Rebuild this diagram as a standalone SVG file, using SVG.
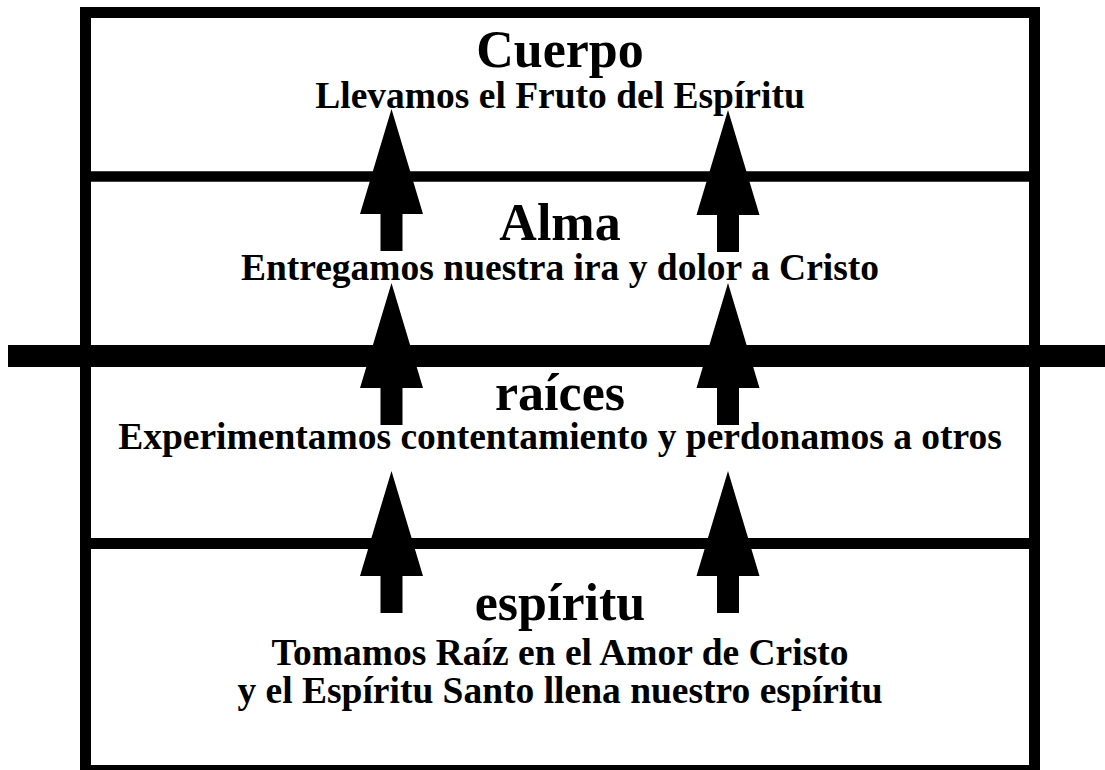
<svg xmlns="http://www.w3.org/2000/svg" width="1105" height="770" viewBox="0 0 1105 770">
<style>
.t{font-family:"Liberation Serif","Times New Roman",serif;font-weight:bold;fill:#000;text-anchor:middle}
.h{font-size:52px}
.s{font-size:37.5px}
.ln{stroke:#000;fill:none}
</style>
<defs>
<path id="arr" d="M0,0 L31.5,105 L11,105 L11,142 L-11,142 L-11,105 L-31.5,105 Z" fill="#000"/>
</defs>
<rect width="1105" height="770" fill="#fff"/>
<g id="frame">
<rect class="ln" x="85.5" y="12.5" width="949" height="758" stroke-width="11"/>
<line class="ln" x1="85" y1="176.5" x2="1035" y2="176.5" stroke-width="10.5"/>
<line class="ln" x1="8" y1="356" x2="1105" y2="356" stroke-width="22"/>
<line class="ln" x1="85" y1="543.5" x2="1035" y2="543.5" stroke-width="11"/>
</g>
<g id="cuerpo">
<text class="t h" x="560" y="67">Cuerpo</text>
<text class="t s" x="560" y="108">Llevamos el Fruto del Espíritu</text>
</g>
<g id="alma">
<text class="t h" x="560" y="240">Alma</text>
<text class="t s" x="560" y="280">Entregamos nuestra ira y dolor a Cristo</text>
</g>
<g id="raices">
<text class="t h" x="560" y="410">raíces</text>
<text class="t s" x="560" y="449">Experimentamos contentamiento y perdonamos a otros</text>
</g>
<g id="espiritu">
<text class="t h" x="560" y="620">espíritu</text>
<text class="t s" x="560" y="665">Tomamos Raíz en el Amor de Cristo</text>
<text class="t s" x="560" y="703">y el Espíritu Santo llena nuestro espíritu</text>
</g>
<g id="connectors">
<use href="#arr" x="391.5" y="109"/>
<use href="#arr" x="391.5" y="283"/>
<use href="#arr" x="391.5" y="471"/>
<use href="#arr" x="728" y="110"/>
<use href="#arr" x="728" y="283"/>
<use href="#arr" x="728" y="471"/>
</g>
</svg>
